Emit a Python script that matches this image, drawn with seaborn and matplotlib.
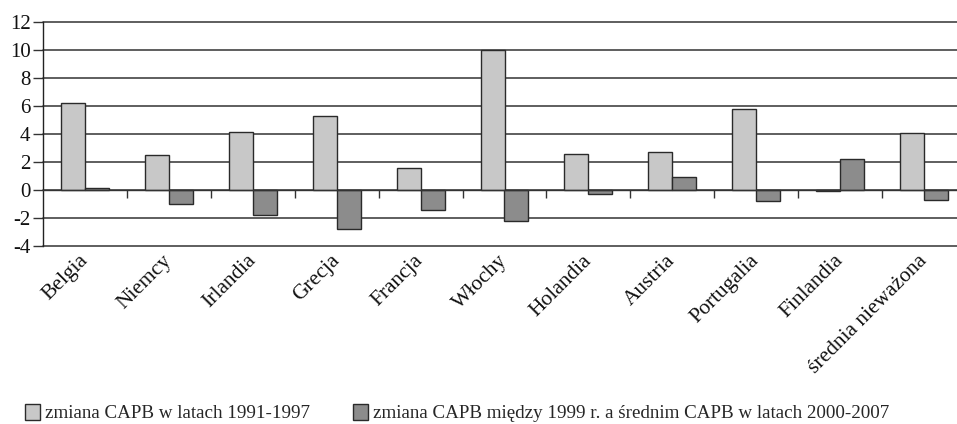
import matplotlib
matplotlib.use("Agg")
import matplotlib.pyplot as plt
import seaborn as sns
import pandas as pd
import numpy as np
from matplotlib.ticker import FixedLocator

# Data
countries = ["Belgia", "Niemcy", "Irlandia", "Grecja", "Francja", "Włochy",
             "Holandia", "Austria", "Portugalia", "Finlandia", "średnia nieważona"]
change_1991_1997 = [6.25, 2.5, 4.15, 5.3, 1.6, 10.0, 2.6, 2.7, 5.8, -0.1, 4.1]
change_1999_vs_2000_2007 = [0.15, -1.0, -1.8, -2.8, -1.4, -2.2, -0.3, 0.9, -0.75, 2.2, -0.7]
series_labels = ["zmiana CAPB w latach 1991-1997",
                 "zmiana CAPB między 1999 r. a średnim CAPB w latach 2000-2007"]
y_ticks = list(range(-4, 13, 2))

df = pd.DataFrame({
    "kraj": countries * 2,
    "seria": [series_labels[0]] * len(countries) + [series_labels[1]] * len(countries),
    "wartość": change_1991_1997 + change_1999_vs_2000_2007,
})

sns.set_theme(style="white")
plt.rcParams["font.family"] = ["Liberation Serif", "DejaVu Serif"]
plt.rcParams["axes.unicode_minus"] = False

W, H = 957, 424
fig = plt.figure(figsize=(W / 100, H / 100), dpi=100)
ax = fig.add_axes([43 / W, (H - 246) / H, (966 - 43) / W, 224 / H])

palette = {series_labels[0]: "#c8c8c8", series_labels[1]: "#8c8c8c"}
sns.barplot(data=df, x="kraj", y="wartość", hue="seria", palette=palette,
            width=0.57, gap=0, saturation=1, edgecolor="#2a2a2a", linewidth=1,
            ax=ax)

ax.set_xlim(-0.5, len(countries) - 0.5)
ax.set_ylim(-4, 12)
ax.set_yticks(y_ticks)
ax.set_xlabel("")
ax.set_ylabel("")

ax.yaxis.grid(True, color="#333333", linewidth=1.1)
ax.xaxis.grid(False)
ax.set_axisbelow(True)
for gl in ax.get_ygridlines():
    gl.set_clip_on(False)

for side in ("top", "right"):
    ax.spines[side].set_visible(False)
ax.spines["left"].set_color("#222222")
ax.spines["left"].set_linewidth(1)
ax.spines["bottom"].set_position(("data", 0))
ax.spines["bottom"].set_color("#333333")
ax.spines["bottom"].set_linewidth(1)

ax.tick_params(axis="y", which="major", left=True, direction="out", length=7,
               width=1, color="#333333", labelsize=15, pad=2, labelcolor="#111111")
ax.tick_params(axis="x", which="major", bottom=True, length=0, pad=49,
               labelsize=15.5, labelcolor="#111111")
ax.xaxis.set_minor_locator(FixedLocator(np.arange(0.5, len(countries) - 1, 1)))
ax.tick_params(axis="x", which="minor", bottom=True, direction="out", length=6,
               width=1, color="#333333")
for lab in ax.get_xticklabels():
    lab.set_rotation(45)
    lab.set_ha("right")
    lab.set_va("center")
    lab.set_rotation_mode("anchor")

handles, labels = ax.get_legend_handles_labels()
if ax.get_legend() is not None:
    ax.get_legend().remove()
fig.legend(handles, labels, loc="center left",
           bbox_to_anchor=(25 / W, 1 - 413 / H),
           ncol=2, frameon=False, fontsize=13.7, handlelength=0.79,
           handleheight=0.9, handletextpad=0.26, columnspacing=2.26,
           borderaxespad=0, borderpad=0)

fig.savefig("out.png", dpi=100)
